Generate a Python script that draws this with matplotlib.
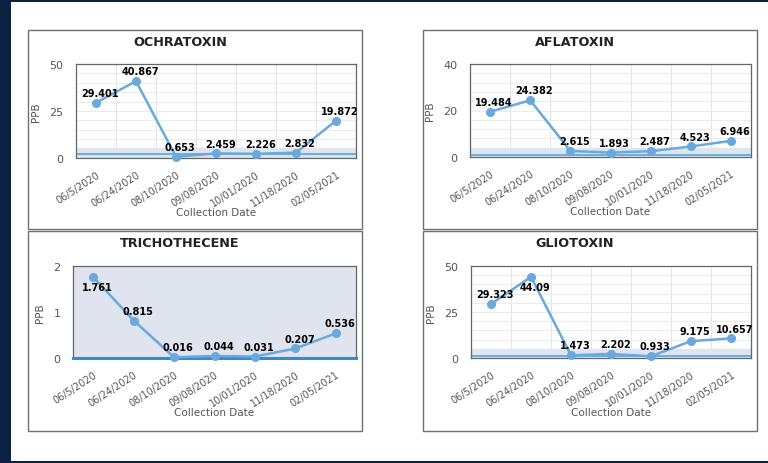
import numpy as np
import matplotlib.pyplot as plt
from matplotlib.patches import Rectangle
from matplotlib.ticker import MultipleLocator

# dados
dates = ['06/5/2020', '06/24/2020', '08/10/2020', '09/08/2020',
         '10/01/2020', '11/18/2020', '02/05/2021']
ochratoxin = [29.401, 40.867, 0.653, 2.459, 2.226, 2.832, 19.872]
aflatoxin = [19.484, 24.382, 2.615, 1.893, 2.487, 4.523, 6.946]
trichothecene = [1.761, 0.815, 0.016, 0.044, 0.031, 0.207, 0.536]
gliotoxin = [29.323, 44.09, 1.473, 2.202, 0.933, 9.175, 10.657]

names = ['OCHRATOXIN', 'AFLATOXIN', 'TRICHOTHECENE', 'GLIOTOXIN']
y_max = [50, 40, 2, 50]
y_major = [25, 20, 1, 25]
y_minor = [5, 4, None, 5]
band_top = [5.5, 4, 2, 5]
ref_line = [2, 1, 0, 1]

W, H = 768, 464
NAVY = '#0c2242'
BLUE = '#6aa9dd'

fig = plt.figure(figsize=(W / 100, H / 100), dpi=100)
fig.patch.set_facecolor(NAVY)


def rect_px(l, t, r, b):
    return [l / W, 1 - b / H, (r - l) / W, (b - t) / H]


# área branca
fig.add_artist(Rectangle((11 / W, 1 - 462 / H), (W - 11) / W, 459 / H,
                         transform=fig.transFigure, facecolor='white',
                         edgecolor='none', zorder=-3))

panels = [(28, 31, 362, 230), (423, 31, 757, 230),
          (28, 232, 362, 432), (423, 232, 757, 432)]
axes_px = [(76, 65, 356, 159), (470, 65, 751, 158),
           (73, 267, 356, 359), (471, 267, 751, 359)]
title_x = [180, 575, 180, 575]
below = [[], [], [0], [1]]  # rótulos abaixo do ponto

for i, series in enumerate([ochratoxin, aflatoxin, trichothecene, gliotoxin]):
    pl, pt, pr, pb = panels[i]
    fig.add_artist(Rectangle((pl / W, 1 - pb / H), (pr - pl) / W, (pb - pt) / H,
                             transform=fig.transFigure, facecolor='white',
                             edgecolor='#707070', lw=1.0, zorder=-2))

    ax = fig.add_axes(rect_px(*axes_px[i]))
    x = np.arange(len(dates))
    ax.set_xlim(-0.5, len(dates) - 0.5)
    ax.set_ylim(0, y_max[i])

    ax.axhspan(0, band_top[i], color='#dfe4ee', zorder=1)
    if i == 2:
        ax.axhline(ref_line[i], color='#2b8fd2', lw=2.2, zorder=3, clip_on=False)
    else:
        ax.axhline(ref_line[i], color='#5aaee0', lw=1.3, zorder=2)

    ax.plot(x, series, color=BLUE, lw=1.8, marker='o', ms=5.5,
            zorder=4, clip_on=False)

    for j, v in enumerate(series):
        dy = -7.5 if j in below[i] else 3.5
        va = 'center' if j in below[i] else 'bottom'
        ax.annotate(f'{v:g}', (j, v), xytext=(3, dy), textcoords='offset points',
                    ha='center', va=va, fontsize=7, fontweight='bold',
                    color='black', zorder=5)

    ax.set_xticks(x)
    ax.set_xticklabels(dates, rotation=33, ha='right', rotation_mode='anchor',
                       fontsize=7, color='#555555')
    ax.xaxis.set_minor_locator(MultipleLocator(1, offset=0.5))
    ax.yaxis.set_major_locator(MultipleLocator(y_major[i]))
    if y_minor[i]:
        ax.yaxis.set_minor_locator(MultipleLocator(y_minor[i]))
    ax.tick_params(which='both', length=0)
    ax.tick_params(axis='y', labelsize=8, labelcolor='#555555', pad=9)
    ax.tick_params(axis='x', pad=8)
    ax.grid(which='minor', axis='x', color='#e4e4e4', lw=0.8)
    if y_minor[i]:
        ax.grid(which='both', axis='y', color='#ececec', lw=0.8)
    ax.set_axisbelow(True)
    for s in ax.spines.values():
        s.set_color('#666666')
        s.set_linewidth(0.9)
    if i == 2:
        ax.set_facecolor('#dfe4ee')

    ax.set_ylabel('PPB', fontsize=7.5, color='#555555', labelpad=6)

    fig.text(title_x[i] / W, 1 - (pt + 12) / H, names[i], ha='center', va='center',
             fontsize=9.2, fontweight='bold', color='#222222')
    al, at, ar, ab = axes_px[i]
    fig.text((al + ar) / 2 / W, 1 - (ab + 54) / H, 'Collection Date',
             ha='center', va='center', fontsize=7.5, color='#555555')

plt.savefig('out.png', dpi=100, facecolor=fig.get_facecolor())
